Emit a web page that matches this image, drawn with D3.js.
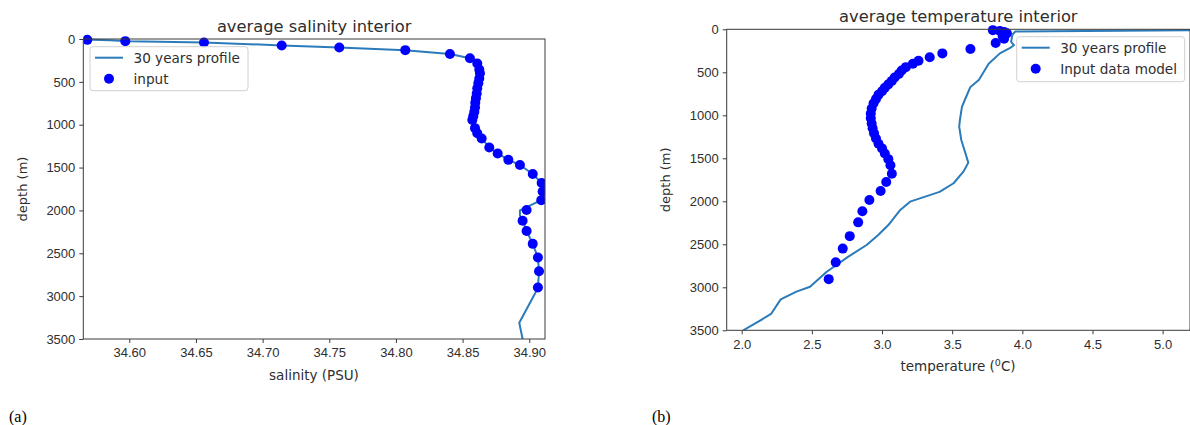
<!DOCTYPE html>
<html>
<head>
<meta charset="utf-8">
<script src="https://cdn.jsdelivr.net/npm/d3@7"></script>
<style>
  html, body { margin: 0; padding: 0; background: #fff; }
  svg { display: block; font-family: "DejaVu Sans", sans-serif; }
</style>
</head>
<body>
<svg id="chart" width="1190" height="425"></svg>
<script>
// ---------------- data ----------------
const salDotDepth = [10, 25, 40, 75, 100, 130, 175, 225, 285, 355, 400, 460, 515, 575, 635, 690, 745, 800, 850, 900, 945, 1040, 1100, 1160, 1265, 1335, 1410, 1470, 1575, 1680, 1780, 1880, 1995, 2120, 2240, 2390, 2550, 2710, 2900];
const salDotValue = [34.5685, 34.597, 34.656, 34.7143, 34.7575, 34.807, 34.8405, 34.8555, 34.861, 34.8625, 34.863, 34.8625, 34.8618, 34.861, 34.8606, 34.860, 34.8595, 34.8593, 34.8588, 34.858, 34.8573, 34.8593, 34.861, 34.8643, 34.870, 34.8763, 34.8843, 34.893, 34.9026, 34.9093, 34.910, 34.909, 34.898, 34.895, 34.898, 34.9026, 34.9065, 34.9073, 34.9065];

const salLineDepth = [5, 15, 25, 40, 75, 100, 130, 175, 225, 285, 355, 400, 460, 515, 575, 635, 690, 745, 800, 850, 900, 945, 1040, 1100, 1160, 1265, 1335, 1410, 1470, 1575, 1680, 1780, 1880, 2000, 2060, 2120, 2240, 2390, 2550, 2710, 2900, 2970, 3310, 3500];
const salLineValue = [34.5655, 34.585, 34.60, 34.656, 34.7143, 34.7575, 34.807, 34.8405, 34.8555, 34.861, 34.8625, 34.863, 34.8625, 34.8618, 34.861, 34.8606, 34.860, 34.8595, 34.8593, 34.8588, 34.858, 34.8573, 34.8593, 34.861, 34.8643, 34.870, 34.8763, 34.8843, 34.893, 34.9026, 34.9093, 34.9118, 34.909, 34.893, 34.893, 34.895, 34.898, 34.9026, 34.9065, 34.9073, 34.9065, 34.9043, 34.8925, 34.895];

const tempDotDepth = [10, 20, 30, 45, 60, 80, 110, 160, 230, 280, 325, 365, 400, 440, 480, 520, 560, 600, 640, 680, 720, 760, 810, 860, 920, 980, 1035, 1095, 1150, 1210, 1270, 1330, 1385, 1445, 1510, 1580, 1680, 1775, 1880, 1985, 2115, 2245, 2405, 2550, 2710, 2905];
const tempDotValue = [3.79, 3.84, 3.87, 3.89, 3.88, 3.86, 3.87, 3.81, 3.63, 3.43, 3.34, 3.26, 3.22, 3.17, 3.14, 3.12, 3.09, 3.07, 3.045, 3.02, 3.0, 2.975, 2.957, 2.94, 2.926, 2.92, 2.92, 2.926, 2.933, 2.943, 2.957, 2.975, 3.0, 3.02, 3.045, 3.06, 3.07, 3.03, 2.99, 2.91, 2.86, 2.83, 2.77, 2.72, 2.67, 2.62];

const tempLineDepth = [5, 25, 60, 145, 185, 220, 280, 400, 590, 670, 822, 900, 1055, 1132, 1287, 1365, 1550, 1656, 1790, 1890, 2004, 2101, 2276, 2392, 2508, 2644, 2819, 2993, 3051, 3140, 3310, 3400, 3500];
const tempLineValue = [5.6, 3.95, 3.93, 3.92, 3.94, 3.91, 3.84, 3.76, 3.69, 3.63, 3.59, 3.57, 3.555, 3.55, 3.565, 3.58, 3.615, 3.58, 3.51, 3.41, 3.2, 3.13, 3.045, 2.973, 2.89, 2.76, 2.606, 2.487, 2.39, 2.278, 2.209, 2.118, 2.011];

const depthTicks = [0, 500, 1000, 1500, 2000, 2500, 3000, 3500];
const salTicks = [34.60, 34.65, 34.70, 34.75, 34.80, 34.85, 34.90];
const tempTicks = [2.0, 2.5, 3.0, 3.5, 4.0, 4.5, 5.0];

const salDomain = [34.5655, 34.9118];
const tempDomain = [1.893, 5.195];
const depthDomain = [0, 3500];

// ---------------- drawing ----------------
const svg = d3.select("#chart");
const TEXT = "#2e2e2e";
const SPINE = "#3a3a3a";
const LINE = "#2b7bba";
const DOT = "#0000ff";
const FS = "13px";

function panel(o) {
  const g = svg.append("g");
  const x = d3.scaleLinear().domain(o.xDomain).range([o.left, o.right]);
  const y = d3.scaleLinear().domain(depthDomain).range([o.top, o.bottom]);

  const clipId = "clip" + o.id;
  svg.append("clipPath").attr("id", clipId)
    .append("rect").attr("x", o.left).attr("y", o.top - 6)
    .attr("width", o.right - o.left).attr("height", o.bottom - o.top + 6);

  // line
  const lineData = o.lineDepth.map((d, i) => [o.lineValue[i], d]);
  g.append("path").datum(lineData)
    .attr("clip-path", `url(#${clipId})`)
    .attr("fill", "none").attr("stroke", LINE).attr("stroke-width", 2)
    .attr("stroke-linejoin", "round")
    .attr("d", d3.line().x(d => x(d[0])).y(d => y(d[1])));

  // dots
  const dotData = o.dotDepth.map((d, i) => [o.dotValue[i], d]);
  g.append("g").attr("clip-path", `url(#${clipId})`)
    .selectAll("circle").data(dotData).join("circle")
    .attr("cx", d => x(d[0])).attr("cy", d => y(d[1]))
    .attr("r", 5).attr("fill", DOT);

  // axes
  const yAxis = d3.axisLeft(y).tickValues(depthTicks).tickFormat(d3.format("d")).tickSize(4).tickPadding(4);
  const ya = g.append("g").attr("transform", `translate(${o.left},0)`).call(yAxis);
  const xAxis = d3.axisBottom(x).tickValues(o.xTicks).tickFormat(d3.format(o.xFmt)).tickSize(4).tickPadding(5);
  const xa = g.append("g").attr("transform", `translate(0,${o.bottom})`).call(xAxis);
  [ya, xa].forEach(a => {
    a.select(".domain").remove();
    a.selectAll(".tick line").attr("stroke", SPINE);
    a.selectAll(".tick text").attr("fill", TEXT).style("font-size", FS);
  });

  // spines
  g.append("rect").attr("x", o.left).attr("y", o.top)
    .attr("width", o.right - o.left).attr("height", o.bottom - o.top)
    .attr("fill", "none").attr("stroke", SPINE).attr("stroke-width", 1);

  // title
  g.append("text").attr("x", (o.left + o.right) / 2).attr("y", o.top - 7)
    .attr("text-anchor", "middle").attr("fill", TEXT).style("font-size", "16.3px")
    .text(o.title);

  // y label
  g.append("text").attr("transform", `translate(${o.yLabelX},${(o.top + o.bottom) / 2}) rotate(-90)`)
    .attr("text-anchor", "middle").attr("fill", TEXT).style("font-size", FS)
    .text("depth (m)");

  // x label
  const xl = g.append("text").attr("x", o.xLabelX).attr("y", o.bottom + 41)
    .attr("text-anchor", "middle").attr("fill", TEXT).style("font-size", "13.5px");
  o.xLabel(xl);

  // legend
  const L = o.legend;
  const lg = g.append("g");
  lg.append("rect").attr("x", L.x).attr("y", L.y).attr("width", L.w).attr("height", L.h)
    .attr("rx", 3).attr("fill", "#fff").attr("fill-opacity", 0.8)
    .attr("stroke", "#d0d0d0").attr("stroke-width", 1);
  lg.append("line").attr("x1", L.x + 5).attr("x2", L.x + 33)
    .attr("y1", L.y + 11).attr("y2", L.y + 11)
    .attr("stroke", LINE).attr("stroke-width", 2);
  lg.append("circle").attr("cx", L.x + 19).attr("cy", L.y + 32).attr("r", 5).attr("fill", DOT);
  lg.append("text").attr("x", L.x + 43.5).attr("y", L.y + 16).attr("fill", TEXT)
    .style("font-size", "13.6px").text(L.labels[0]);
  lg.append("text").attr("x", L.x + 43.5).attr("y", L.y + 37).attr("fill", TEXT)
    .style("font-size", "13.6px").text(L.labels[1]);
}

panel({
  id: "a", left: 83.3, right: 545, top: 39, bottom: 339,
  xDomain: salDomain, xTicks: salTicks, xFmt: ".2f",
  lineDepth: salLineDepth, lineValue: salLineValue,
  dotDepth: salDotDepth, dotValue: salDotValue,
  title: "average salinity interior",
  yLabelX: 27, xLabelX: 314,
  xLabel: t => t.text("salinity (PSU)"),
  legend: { x: 90, y: 46.7, w: 158, h: 44, labels: ["30 years profile", "input"] }
});

panel({
  id: "b", left: 726.7, right: 1190, top: 29.3, bottom: 330.3,
  xDomain: tempDomain, xTicks: tempTicks, xFmt: ".1f",
  lineDepth: tempLineDepth, lineValue: tempLineValue,
  dotDepth: tempDotDepth, dotValue: tempDotValue,
  title: "average temperature interior",
  yLabelX: 670, xLabelX: 958,
  xLabel: t => {
    t.append("tspan").text("temperature (");
    t.append("tspan").attr("dy", -5).style("font-size", "9.5px").text("0");
    t.append("tspan").attr("dy", 5).text("C)");
  },
  legend: { x: 1016.7, y: 36.7, w: 168, h: 45, labels: ["30 years profile", "Input data model"] }
});

// captions
svg.append("text").attr("x", 9).attr("y", 421.5).attr("fill", "#000")
  .style("font-family", "'Liberation Serif', 'DejaVu Serif', serif").style("font-size", "16px").text("(a)");
svg.append("text").attr("x", 652).attr("y", 421.5).attr("fill", "#000")
  .style("font-family", "'Liberation Serif', 'DejaVu Serif', serif").style("font-size", "16px").text("(b)");
</script>
</body>
</html>
